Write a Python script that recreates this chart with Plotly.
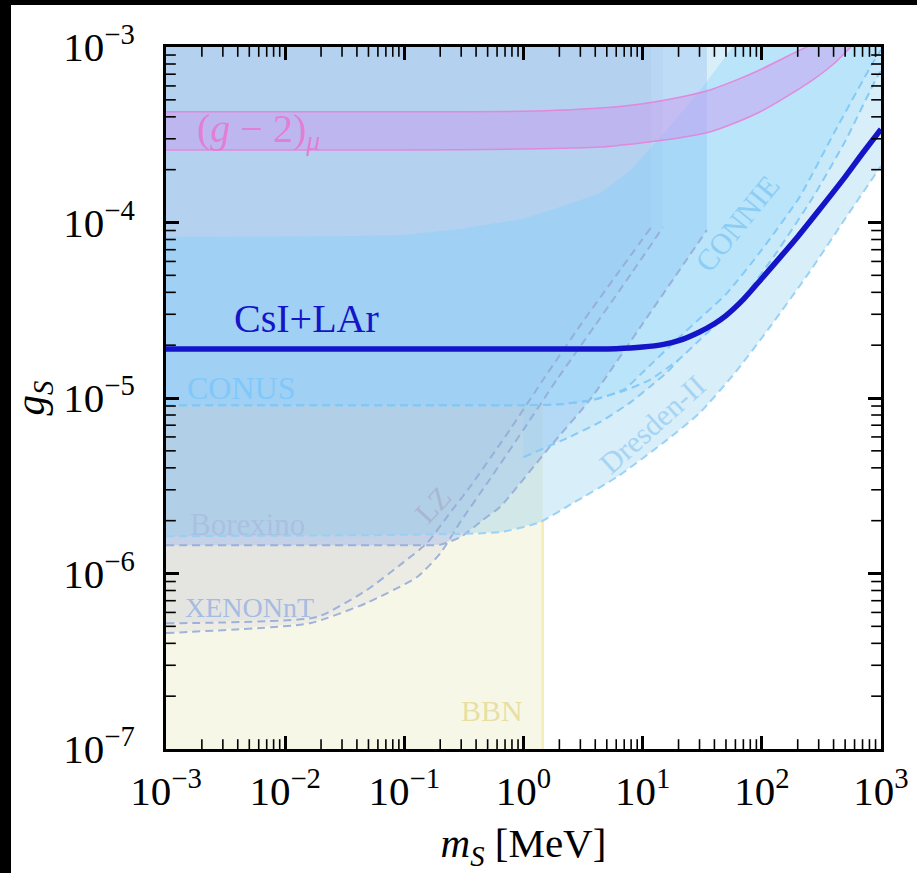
import plotly.graph_objects as go

# ---------------- data ----------------
csi_m = [1e-3, 1e-2, 1e-1, 1, 3, 6, 10, 15, 20, 30, 40, 50, 70, 100, 150, 200, 300, 500, 700, 1000]
csi_g = [1.9e-5, 1.9e-5, 1.9e-5, 1.9e-5, 1.9e-5, 1.91e-5, 1.95e-5, 2.02e-5, 2.12e-5, 2.38e-5,
         2.65e-5, 2.95e-5, 3.65e-5, 4.8e-5, 6.6e-5, 8.3e-5, 1.17e-4, 1.82e-4, 2.48e-4, 3.4e-4]

gm2_up_m = [1e-3, 0.1, 1, 4.4, 10, 20, 36.6, 60, 96, 140, 208, 240]
gm2_up_g = [4.27e-4, 4.27e-4, 4.3e-4, 4.49e-4, 4.75e-4, 5.15e-4, 5.69e-4, 6.45e-4, 7.4e-4,
            8.4e-4, 9.6e-4, 1.0e-3]
gm2_lo_m = [1e-3, 0.1, 1, 4.4, 10, 20, 36.6, 60, 96, 160, 268, 400, 560]
gm2_lo_g = [2.59e-4, 2.59e-4, 2.62e-4, 2.69e-4, 2.85e-4, 3.03e-4, 3.28e-4, 3.7e-4, 4.26e-4,
            5.2e-4, 6.5e-4, 8.0e-4, 1.0e-3]

conus_m = [1e-3, 0.1, 1, 2, 3.8, 7, 11.5, 20, 30, 57, 75, 130, 270, 500, 922, 1000]
conus_g = [9.1e-6, 9.1e-6, 9.1e-6, 9.2e-6, 9.75e-6, 1.1e-5, 1.27e-5, 1.65e-5, 2.14e-5, 3.2e-5,
           3.96e-5, 6.6e-5, 1.4e-4, 2.9e-4, 6.7e-4, 7.3e-4]
conus_top_m = [1e-3, 0.03, 0.1, 0.3, 1, 2, 4.4, 8, 15, 30, 57]
conus_top_g = [8.3e-5, 8.35e-5, 8.5e-5, 9.2e-5, 1.05e-4, 1.22e-4, 1.47e-4, 2.0e-4, 3.2e-4,
               5.6e-4, 1e-3]

connie_m = [1e-3, 0.1, 1, 2, 3.8, 7, 10, 20, 51, 100, 208, 400, 851, 1000]
connie_g = [9.1e-6, 9.1e-6, 9.1e-6, 9.2e-6, 9.75e-6, 1.12e-5, 1.4e-5, 2.2e-5, 3.96e-5, 7.0e-5,
            1.4e-4, 3.2e-4, 8.1e-4, 9.6e-4]

dresden_m = [1, 2.31, 4.4, 8, 11.5, 16, 20]
dresden_g = [4.6e-6, 5.9e-6, 7.3e-6, 9.5e-6, 1.16e-5, 1.4e-5, 1.65e-5]

borex_m = [1e-3, 0.092, 0.634, 1.37, 2.6, 6.1, 16, 30, 60, 120, 250, 500, 1000]
borex_g = [1.63e-6, 1.66e-6, 1.72e-6, 1.96e-6, 2.52e-6, 3.55e-6, 5.77e-6, 8.2e-6,
           1.4e-5, 2.6e-5, 5.2e-5, 1.05e-4, 2.1e-4]

xenon_a_m = [1e-3, 0.0185, 0.0485, 0.097, 0.155, 0.241, 0.355, 0.77, 1.46, 3, 6, 11.8]
xenon_a_g = [5.2e-7, 5.65e-7, 8.05e-7, 1.15e-6, 1.49e-6, 2.21e-6, 3.11e-6, 6.6e-6, 1.27e-5,
             2.6e-5, 5e-5, 9.4e-5]
xenon_b_m = [1e-3, 0.0161, 0.0485, 0.128, 0.2, 0.3, 0.5, 1.0, 1.9, 4, 8, 14.8]
xenon_b_g = [4.58e-7, 5.2e-7, 6.8e-7, 9.55e-7, 1.3e-6, 2.0e-6, 3.3e-6, 6.6e-6, 1.27e-5,
             2.6e-5, 5.1e-5, 9.4e-5]
lz_m = [1e-3, 0.1, 0.2, 0.3, 0.456, 0.634, 1.66, 3.6, 10, 34.6]
lz_g = [1.45e-6, 1.45e-6, 1.46e-6, 1.62e-6, 2.02e-6, 2.39e-6, 5.26e-6, 9.75e-6, 2.65e-5, 9.06e-5]

bbn_m_max = 1.45
bbn_g_top = 9.1e-6

x_range = [1e-3, 1e3]
y_range = [1e-7, 1e-3]
x_tickvals = [1e-3, 1e-2, 1e-1, 1, 10, 100, 1000]
x_ticktext = ["10<sup>−3</sup>", "10<sup>−2</sup>", "10<sup>−1</sup>", "10<sup>0</sup>",
              "10<sup>1</sup>", "10<sup>2</sup>", "10<sup>3</sup>"]
y_tickvals = [1e-7, 1e-6, 1e-5, 1e-4, 1e-3]
y_ticktext = ["10<sup>−7</sup>", "10<sup>−6</sup>", "10<sup>−5</sup>", "10<sup>−4</sup>",
              "10<sup>−3</sup>"]
minor_digits = [2, 3, 4, 5, 6, 7, 8, 9]

SERIF = "Liberation Serif, DejaVu Serif, serif"
XMIN, XMAX = x_range
YMIN, YMAX = y_range

x_minor = [d * v for v in x_tickvals[:-1] for d in minor_digits]
y_minor = [d * v for v in y_tickvals[:-1] for d in minor_digits]

fig = go.Figure()


def fill_poly(xs, ys, color):
    fig.add_trace(go.Scatter(x=xs, y=ys, fill="toself", fillcolor=color, mode="none",
                             hoverinfo="skip", showlegend=False))


def region_above(xs, ys, xend, color):
    fill_poly(list(xs) + [xend, XMIN], list(ys) + [YMAX, YMAX], color)


def dashed(xs, ys, color, width=2.0):
    fig.add_trace(go.Scatter(x=xs, y=ys, mode="lines", hoverinfo="skip", showlegend=False,
                             line=dict(color=color, width=width, dash="8px,5px",
                                       shape="spline", smoothing=0.5)))


# BBN
fill_poly([XMIN, bbn_m_max, bbn_m_max, XMIN], [YMIN, YMIN, bbn_g_top, bbn_g_top],
          "rgba(230,230,178,0.3)")
fig.add_trace(go.Scatter(x=[bbn_m_max, bbn_m_max], y=[YMIN, 2.0e-6], mode="lines",
                         line=dict(color="rgba(245,232,170,0.8)", width=2.5),
                         hoverinfo="skip", showlegend=False))

# XENONnT / LZ
region_above(xenon_b_m, xenon_b_g, xenon_b_m[-1], "rgba(158,158,202,0.11)")
region_above(xenon_a_m, xenon_a_g, xenon_a_m[-1], "rgba(158,158,202,0.10)")
region_above(lz_m, lz_g, lz_m[-1], "rgba(117,163,246,0.28)")

# Borexino
region_above(borex_m, borex_g, XMAX, "rgba(137,203,234,0.33)")

# Dresden-II : between its curve and the CONUS curve
conus_right = [(m, g) for m, g in zip(conus_m, conus_g) if dresden_m[0] <= m <= dresden_m[-1]]
fill_poly(dresden_m + [m for m, g in conus_right[::-1]],
          dresden_g + [g for m, g in conus_right[::-1]], "rgba(120,200,250,0.15)")

# CONUS and CONNIE (both bounded above by the upper curve)
blue_fill = "rgba(118,205,254,0.17)"
fill_poly(conus_m + [XMAX] + conus_top_m[::-1], conus_g + [YMAX] + conus_top_g[::-1], blue_fill)
fill_poly(connie_m + [XMAX] + conus_top_m[::-1], connie_g + [YMAX] + conus_top_g[::-1], blue_fill)

# dashed boundaries
xe_col = "rgba(150,172,215,0.9)"
dashed(xenon_b_m, xenon_b_g, xe_col)
dashed(xenon_a_m, xenon_a_g, xe_col)
dashed(lz_m, lz_g, xe_col)
dashed(borex_m, borex_g, "rgba(150,208,245,0.95)")
dashed(dresden_m, dresden_g, "rgba(130,200,245,0.95)")
dashed(connie_m, connie_g, "rgba(130,200,245,0.95)")
dashed(conus_m, conus_g, "rgba(130,200,245,0.95)")

# (g-2)_mu band
fill_poly(gm2_lo_m + gm2_up_m[::-1], gm2_lo_g + gm2_up_g[::-1], "rgba(205,145,238,0.42)")
edge = dict(color="rgba(230,130,215,0.9)", width=1.5, shape="spline", smoothing=0.5)
fig.add_trace(go.Scatter(x=gm2_up_m, y=gm2_up_g, mode="lines", line=edge,
                         hoverinfo="skip", showlegend=False))
fig.add_trace(go.Scatter(x=gm2_lo_m, y=gm2_lo_g, mode="lines", line=edge,
                         hoverinfo="skip", showlegend=False))

# CsI+LAr
fig.add_trace(go.Scatter(x=csi_m, y=csi_g, mode="lines", line=dict(color="#1414c8", width=5.5,
                         shape="spline", smoothing=0.6), hoverinfo="skip", showlegend=False))

# minor ticks: line markers sitting on the four frame edges (outer half clipped by the axes)
tick_marker_v = dict(symbol="line-ns", size=14, line=dict(color="black", width=1.6))
tick_marker_h = dict(symbol="line-ew", size=14, line=dict(color="black", width=1.6))
for yy in (YMIN, YMAX):
    fig.add_trace(go.Scatter(x=x_minor, y=[yy] * len(x_minor), mode="markers",
                             marker=tick_marker_v, cliponaxis=True, hoverinfo="skip",
                             showlegend=False))
for xx in (XMIN, XMAX):
    fig.add_trace(go.Scatter(x=[xx] * len(y_minor), y=y_minor, mode="markers",
                             marker=tick_marker_h, cliponaxis=True, hoverinfo="skip",
                             showlegend=False))


# labels (positions given as pixel positions of the reference, converted to data coords)
def pos(px, py):
    lx = -3 + (px - 166) / 119.2
    ly = -3 - (py - 47) / 175.5
    return lx, ly


for txt, (px, py), col, sz, ang in [
    ("CsI+LAr", (307, 318), "#1414c8", 40, 0),
    ("CONUS", (241, 388), "rgb(128,200,250)", 32, 0),
    ("Borexino", (248, 524), "rgba(170,190,225,0.9)", 31, 0),
    ("XENONnT", (250, 607), "rgba(160,185,228,0.95)", 28, 0),
    ("LZ", (433, 504), "rgba(170,180,205,0.9)", 30, -47),
    ("BBN", (492, 710), "rgba(232,222,160,0.95)", 30, 0),
    ("CONNIE", (737, 223), "rgb(140,205,245)", 30, -51),
    ("Dresden-II", (652, 424), "rgb(165,212,245)", 30, -42),
    ("(<i>g</i> − 2)<sub><i>μ</i></sub>", (259, 131), "rgba(230,120,210,0.9)", 40, 0),
]:
    lx, ly = pos(px, py)
    fig.add_annotation(x=lx, y=ly, xref="x", yref="y", text=txt, showarrow=False,
                       font=dict(family=SERIF, size=sz, color=col), textangle=ang,
                       xanchor="center", yanchor="middle")

axis_common = dict(type="log", showgrid=False, zeroline=False, showline=True, linecolor="black",
                   linewidth=3, mirror="ticks", ticks="inside", ticklen=13, tickwidth=2.5,
                   tickcolor="black",
                   tickfont=dict(family=SERIF, size=41, color="black"))

fig.update_layout(
    xaxis=dict(range=[-3, 3], tickvals=x_tickvals, ticktext=x_ticktext, ticklabelstandoff=4,
               title=dict(text="<i>m</i><sub><i>S</i></sub> [MeV]",
                          font=dict(family=SERIF, size=41, color="black"), standoff=16),
               **axis_common),
    yaxis=dict(range=[-7, -3], tickvals=y_tickvals, ticktext=y_ticktext, ticklabelstandoff=20,
               title=dict(text="<i>g</i><sub><i>S</i></sub>",
                          font=dict(family=SERIF, size=41, color="black"), standoff=6),
               **axis_common),
)

W, H = 917, 873
L, R, T, B = 166, 36, 47, 124
pw, ph = W - L - R, H - T - B
fig.add_shape(type="rect", xref="paper", yref="paper", x0=-L / pw, x1=(11 - L) / pw,
              y0=-B / ph, y1=(H - B) / ph, fillcolor="black", line_width=0, layer="above")
fig.add_shape(type="rect", xref="paper", yref="paper", x0=-L / pw, x1=(W - L) / pw,
              y0=(H - B - 5) / ph, y1=(H - B) / ph, fillcolor="black", line_width=0,
              layer="above")

fig.update_layout(width=W, height=H, margin=dict(l=L, r=R, t=T, b=B, pad=0, autoexpand=False),
                  paper_bgcolor="white", plot_bgcolor="white", showlegend=False)

fig.write_html("out.html", config={"displayModeBar": False},
               post_script="document.body.style.margin='0';")
